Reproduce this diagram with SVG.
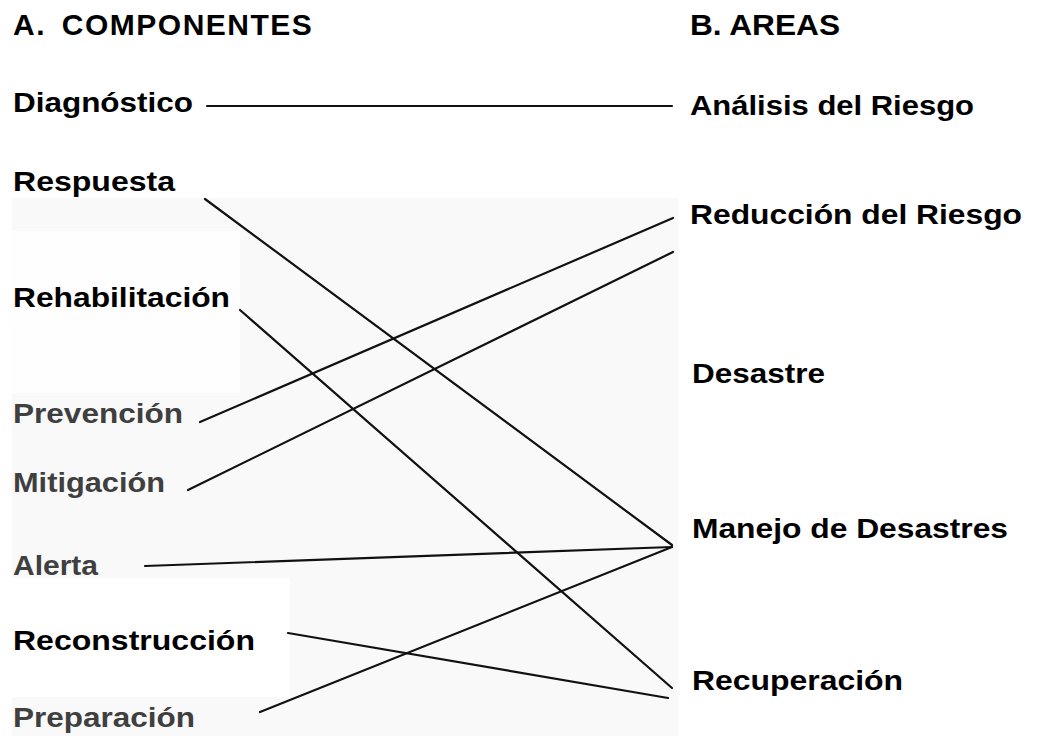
<svg xmlns="http://www.w3.org/2000/svg" width="1038" height="736" viewBox="0 0 1038 736">
<style>
.t{font-family:"Liberation Sans",Arial,sans-serif;font-weight:bold;font-size:28px;fill:#000}
.g{fill:#3f3f3f}
.h{font-size:30px}
.c line{stroke:#111;stroke-width:2.2;stroke-linecap:round}
</style>
<rect x="0" y="0" width="1038" height="736" fill="#fff"/>
<g id="background">
<rect x="12" y="198" width="666" height="538" fill="#f9f9f9"/>
<rect x="12" y="231" width="228" height="162" fill="#fefefe"/>
<rect x="12" y="578" width="278" height="119" fill="#fff"/>
</g>
<g class="c" id="connectors">
<line x1="207" y1="106" x2="672" y2="106"/>
<line x1="205" y1="199" x2="672" y2="545"/>
<line x1="240" y1="310" x2="672" y2="688"/>
<line x1="200" y1="422" x2="673" y2="218"/>
<line x1="188" y1="490" x2="673" y2="252"/>
<line x1="145" y1="566" x2="672" y2="547"/>
<line x1="260" y1="712" x2="672" y2="547"/>
<line x1="288" y1="633" x2="668" y2="698"/>
</g>
<g id="headA"><text class="t h" x="13" y="35" style="word-spacing:6px;letter-spacing:1.5px">A. COMPONENTES</text></g>
<g id="headB"><text class="t h" x="690" y="35" textLength="150" lengthAdjust="spacingAndGlyphs">B. AREAS</text></g>
<g id="n-diagnostico"><text class="t" x="13" y="112" textLength="180" lengthAdjust="spacingAndGlyphs">Diagnóstico</text></g>
<g id="n-respuesta"><text class="t" x="13" y="191" textLength="162" lengthAdjust="spacingAndGlyphs">Respuesta</text></g>
<g id="n-rehabilitacion"><text class="t" x="13" y="307" textLength="217" lengthAdjust="spacingAndGlyphs">Rehabilitación</text></g>
<g id="n-prevencion"><text class="t g" x="13" y="423" textLength="170" lengthAdjust="spacingAndGlyphs">Prevención</text></g>
<g id="n-mitigacion"><text class="t g" x="13" y="492" textLength="152" lengthAdjust="spacingAndGlyphs">Mitigación</text></g>
<g id="n-alerta"><text class="t g" x="13" y="575" textLength="85" lengthAdjust="spacingAndGlyphs">Alerta</text></g>
<g id="n-reconstruccion"><text class="t" x="13" y="650" textLength="242" lengthAdjust="spacingAndGlyphs">Reconstrucción</text></g>
<g id="n-preparacion"><text class="t g" x="13" y="727" textLength="182" lengthAdjust="spacingAndGlyphs">Preparación</text></g>
<g id="n-analisis"><text class="t" x="690" y="115" textLength="284" lengthAdjust="spacingAndGlyphs">Análisis del Riesgo</text></g>
<g id="n-reduccion"><text class="t" x="690" y="224" textLength="332" lengthAdjust="spacingAndGlyphs">Reducción del Riesgo</text></g>
<g id="n-desastre"><text class="t" x="692" y="383" textLength="133" lengthAdjust="spacingAndGlyphs">Desastre</text></g>
<g id="n-manejo"><text class="t" x="692" y="538" textLength="316" lengthAdjust="spacingAndGlyphs">Manejo de Desastres</text></g>
<g id="n-recuperacion"><text class="t" x="692" y="690" textLength="211" lengthAdjust="spacingAndGlyphs">Recuperación</text></g>
</svg>
